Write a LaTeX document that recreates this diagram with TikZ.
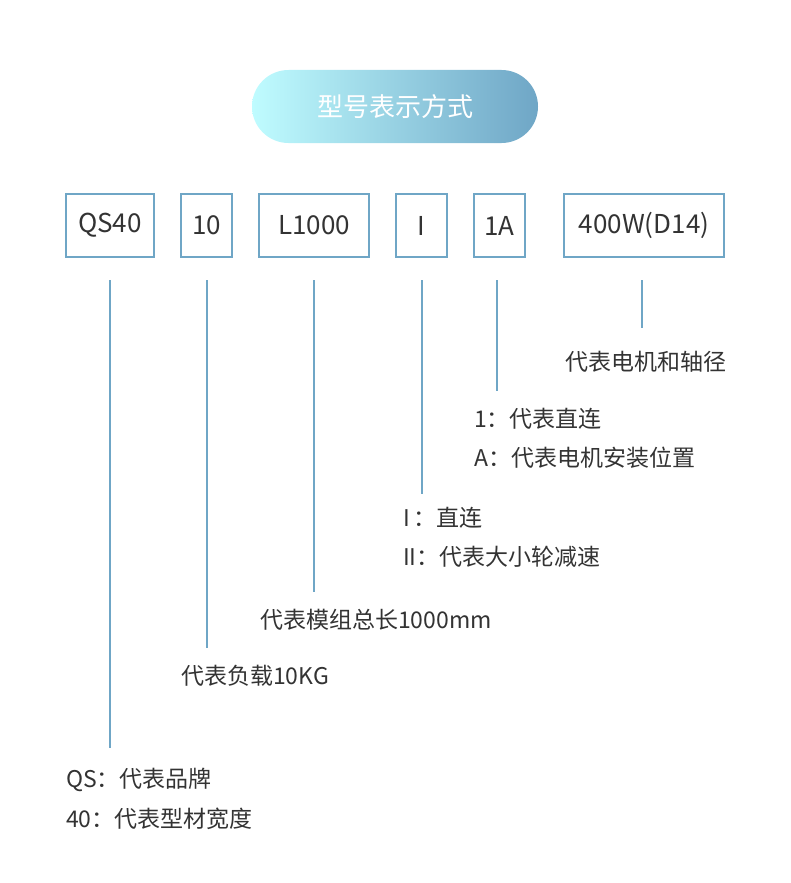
\documentclass[tikz,border=0pt]{standalone}
\usepackage{fontspec}
\setmainfont{Noto Sans CJK SC}
\usetikzlibrary{positioning}
\definecolor{frame}{HTML}{6FA6C6}
\definecolor{ink}{HTML}{333333}
\tikzset{
    code/.style={draw=frame,line width=1.5pt,minimum height=63pt,inner sep=0pt,
        text=ink,font=\fontsize{26}{30}\selectfont},
    lead/.style={draw=frame,line width=1.5pt},
    note/.style={anchor=west,inner sep=0pt,text=ink,font=\fontsize{23}{28}\selectfont}
}
\begin{document}
\begin{tikzpicture}[x=1pt,y=-1pt]
    \useasboundingbox (0,0) rectangle (790,883);

    \shade[left color=blue!5!cyan!25!white,right color=frame,rounded corners=36.5pt]
        (252,70) rectangle (538,143);
    \node (title) [text=white,font=\fontsize{26}{30}\selectfont] at (395,106.5) {型号表示方式};

    \node[code,minimum width=88pt]  (qs)   at (110,225.5) {QS40};
    \node[code,minimum width=51pt]  (load) at (206.5,225.5) {10};
    \node[code,minimum width=110pt] (len)  at (314,225.5) {L1000};
    \node[code,minimum width=51pt]  (mode) at (421.5,225.5) {I};
    \node[code,minimum width=51pt]  (pos)  at (499.5,225.5) {1A};
    \node[code,minimum width=160pt] (mot)  at (644,225.5) {400W(D14)};

    \coordinate (qs end)   at (110,748);
    \coordinate (load end) at (207,648);
    \coordinate (len end)  at (314,592);
    \coordinate (mode end) at (422,494);
    \coordinate (pos end)  at (497,391);
    \coordinate (mot end)  at (642,328);

    \draw[lead] (110,280) -- (qs end);
    \draw[lead] (207,280) -- (load end);
    \draw[lead] (314,280) -- (len end);
    \draw[lead] (422,280) -- (mode end);
    \draw[lead] (497,280) -- (pos end);
    \draw[lead] (642,280) -- (mot end);

    \node[note] (mot a)  at (565,362) {代表电机和轴径};
    \node[note] (pos a)  at (474,419) {1：代表直连};
    \node[note] (pos b)  at (474,458) {A：代表电机安装位置};
    \node[note] (mode a) at (403,518) {I\,：直连};
    \node[note] (mode b) at (403,557) {II：代表大小轮减速};
    \node[note] (len a)  at (260,620) {代表模组总长1000mm};
    \node[note] (load a) at (181,676) {代表负载10KG};
    \node[note] (qs a)   at (66,780)  {QS：代表品牌};
    \node[note] (qs b)   at (66,819)  {40：代表型材宽度};

\end{tikzpicture}
\end{document}
